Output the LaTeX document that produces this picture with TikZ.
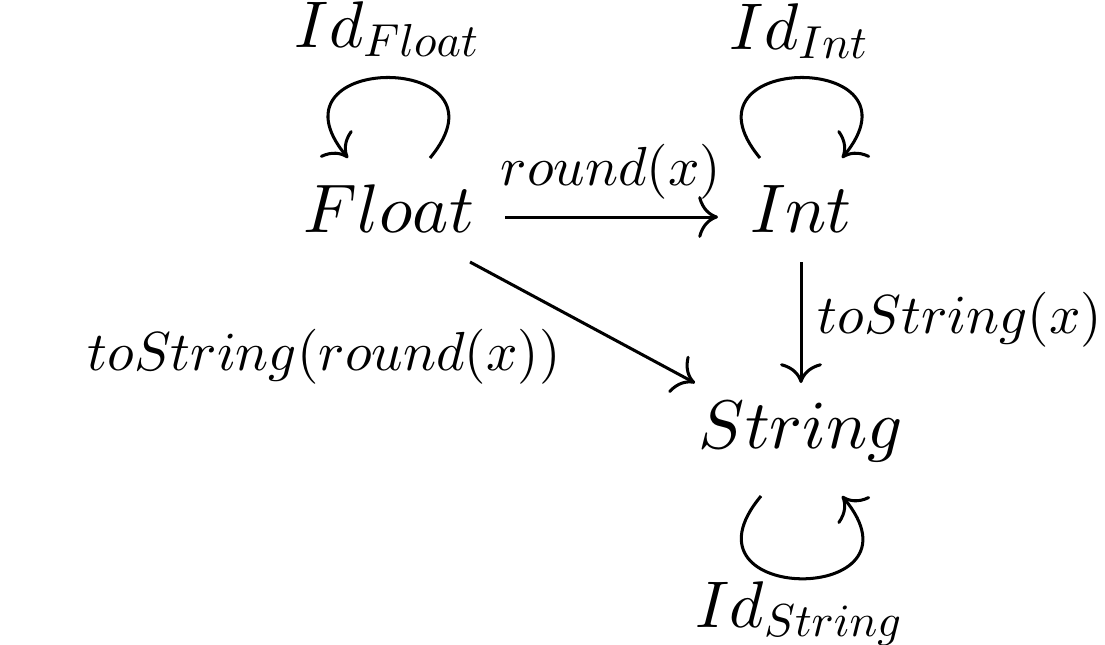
\documentclass[tikz,border=0pt]{standalone}
\usetikzlibrary{calc,arrows.meta}
\newcommand{\objtext}[1]{\scalebox{1.25}{$#1$}}
\newcommand{\idtext}[2]{\scalebox{1.2}{$#1_{\scalebox{0.7}{$#2$}}$}}
\begin{document}
\begin{tikzpicture}[x=0.1818pt,y=-0.1818pt,
  obj/.style={inner sep=0pt,anchor=base},
  idlab/.style={inner sep=0pt,anchor=base},
  elab/.style={inner sep=0pt,anchor=base},
  arr/.style={-{Computer Modern Rightarrow[length=3.6pt,width=7.6pt]},line width=0.55pt}]
\useasboundingbox (0,0) rectangle (1105,644);
\node[obj] (F) at (389,232) {\objtext{Float}};
\node[obj] (I) at (801,232) {\objtext{Int}};
\node[obj] (S) at (801,448) {\objtext{String}};
\node[idlab] (idF) at (388,47) {\idtext{Id}{Float}};
\node[idlab] (idI) at (800,49) {\idtext{Id}{Int}};
\node[idlab] (idS) at (800,627) {\idtext{Id}{String}};
\node[elab] (lr) at (611,185) {$round(x)$};
\node[elab] (lts) at (960,333) {$toString(x)$};
\node[elab] (ltr) at (324,370) {$toString(round(x))$};
\draw[arr] ([shift={(116,-15)}]F.base) -- ([shift={(-83,-15)}]I.base);
\draw[arr] ([shift={(0,30)}]I.base) -- ([shift={(0,-65)}]S.base);
\draw[arr] ([shift={(81,30)}]F.base) -- ([shift={(-106,-65)}]S.base);
\draw[arr] ([shift={(41,-74)}]F.base) .. controls +(89,-107) and +(-89,-107) .. ([shift={(-41,-74)}]F.base);
\draw[arr] ([shift={(-41,-74)}]I.base) .. controls +(-89,-107) and +(89,-107) .. ([shift={(41,-74)}]I.base);
\draw[arr] ([shift={(-40,48)}]S.base) .. controls +(-92,110) and +(92,110) .. ([shift={(41,48)}]S.base);
\end{tikzpicture}
\end{document}
